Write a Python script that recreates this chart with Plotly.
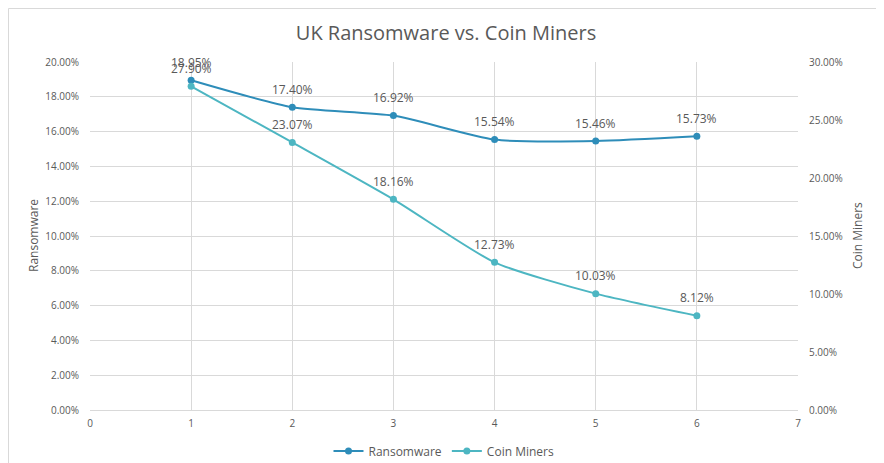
import plotly.graph_objects as go

x_vals = [1, 2, 3, 4, 5, 6]
ransomware = [18.95, 17.40, 16.92, 15.54, 15.46, 15.73]
coin_miners = [27.90, 23.07, 18.16, 12.73, 10.03, 8.12]
left_ticks = [0, 2, 4, 6, 8, 10, 12, 14, 16, 18, 20]
right_ticks = [0, 5, 10, 15, 20, 25, 30]
x_ticks = [0, 1, 2, 3, 4, 5, 6, 7]

C_R = "#2E8DB9"
C_C = "#4DB6C2"
GREY = "#595959"
FONT = "Open Sans"

fig = go.Figure()
fig.add_trace(go.Scatter(
    x=x_vals, y=ransomware, name="Ransomware", mode="lines+markers",
    line=dict(color=C_R, width=2, shape="spline", smoothing=0.6),
    marker=dict(color=C_R, size=7), cliponaxis=False,
))
fig.add_trace(go.Scatter(
    x=x_vals, y=coin_miners, name="Coin Miners", mode="lines+markers",
    yaxis="y2",
    line=dict(color=C_C, width=2, shape="spline", smoothing=0.6),
    marker=dict(color=C_C, size=7), cliponaxis=False,
))

# page body has an 8px margin: figure pixel = reference pixel - OFF
OFF = 8
W, H = 884 - OFF, 463 - OFF
PL, PR, PT, PB = 90 - OFF, 798 - OFF, 62 - OFF, 410 - OFF
L, R, T, B = PL, W - PR, PT, H - PB
pw, ph = PR - PL, PB - PT


def px(xr):
    return (xr - OFF - PL) / pw


def py(yr):
    return (PB - (yr - OFF)) / ph


annotations = [
    dict(text="Ransomware", xref="paper", yref="paper",
         x=px(33), y=py(236), showarrow=False, textangle=-90,
         xanchor="center", yanchor="middle", font=dict(size=12, color=GREY)),
    dict(text="Coin Miners", xref="paper", yref="paper",
         x=px(857), y=py(236), showarrow=False, textangle=-90,
         xanchor="center", yanchor="middle", font=dict(size=12, color=GREY)),
]
for xv, v in zip(x_vals, ransomware):
    annotations.append(dict(text=f"{v:.2f}%", x=xv, y=v, xref="x", yref="y",
                            showarrow=False, yshift=18, xanchor="center",
                            yanchor="middle", font=dict(size=12, color=GREY)))
for xv, v in zip(x_vals, coin_miners):
    annotations.append(dict(text=f"{v:.2f}%", x=xv, y=v, xref="x", yref="y2",
                            showarrow=False, yshift=18, xanchor="center",
                            yanchor="middle", font=dict(size=12, color=GREY)))

fig.update_layout(
    width=W, height=H,
    margin=dict(l=L, r=R, t=T, b=B, autoexpand=False),
    paper_bgcolor="white", plot_bgcolor="white",
    font=dict(family=FONT, color=GREY),
    title=dict(text="UK Ransomware vs. Coin Miners", x=0.5, xanchor="center",
               y=1 - (33 - OFF) / H, yanchor="middle",
               font=dict(size=20, color=GREY, family=FONT)),
    xaxis=dict(range=[0, 7], tickvals=x_ticks, ticktext=[str(t) for t in x_ticks],
               showgrid=True, gridcolor="#D9D9D9", gridwidth=1, automargin=False,
               showline=True, linecolor="#D9D9D9", zeroline=False,
               tickfont=dict(size=10, color=GREY), ticks="", ticklabelstandoff=4),
    yaxis=dict(range=[0, 20], tickvals=left_ticks, automargin=False,
               ticktext=[f"{t:.2f}%" for t in left_ticks],
               showgrid=True, gridcolor="#D9D9D9", gridwidth=1, zeroline=False,
               showline=False, tickfont=dict(size=10, color=GREY), ticks="",
               ticklabelstandoff=10),
    yaxis2=dict(range=[0, 30], tickvals=right_ticks, automargin=False,
                ticktext=[f"{t:.2f}%" for t in right_ticks],
                overlaying="y", side="right", showgrid=False, zeroline=False,
                showline=False, tickfont=dict(size=10, color=GREY), ticks="",
                ticklabelstandoff=10),
    legend=dict(orientation="h", x=0.5, xanchor="center", y=py(451),
                yanchor="middle", font=dict(size=12, color=GREY),
                itemwidth=30, traceorder="normal"),
    shapes=[dict(type="rect", xref="paper", yref="paper",
                 x0=px(8.5), x1=px(879.5),
                 y0=py(475), y1=py(8.5),
                 line=dict(color="#D9D9D9", width=1), fillcolor="rgba(0,0,0,0)",
                 layer="below")],
    annotations=annotations,
)

fig.write_html("out.html")
